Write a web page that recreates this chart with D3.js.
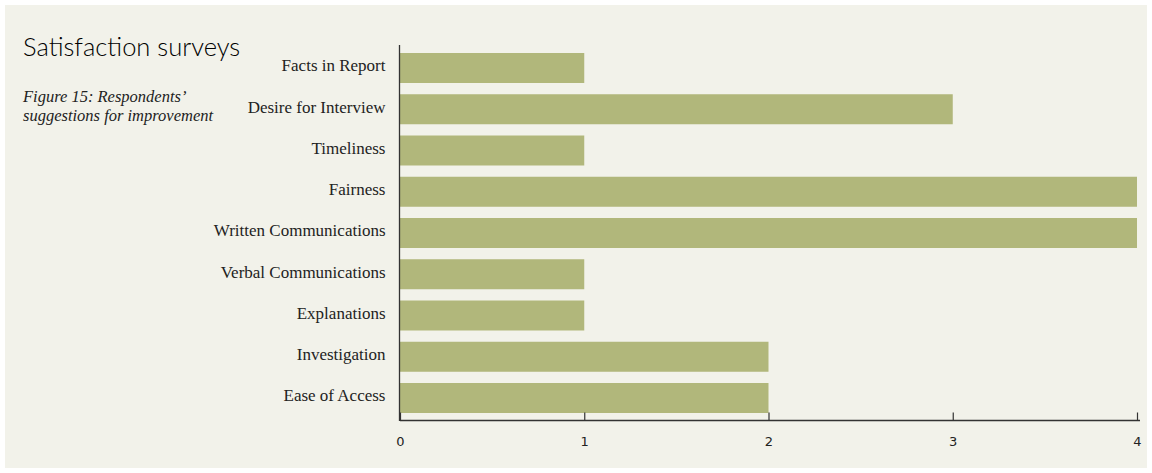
<!DOCTYPE html>
<html>
<head>
<meta charset="utf-8">
<script src="https://cdn.jsdelivr.net/npm/d3@7"></script>
<style>
  html, body { margin: 0; padding: 0; background: #ffffff; }
  svg { display: block; }
</style>
</head>
<body>
<svg id="chart" width="1152" height="473"></svg>
<script>
// Survey responses: suggestions for improvement
const categories = [
  "Facts in Report",
  "Desire for Interview",
  "Timeliness",
  "Fairness",
  "Written Communications",
  "Verbal Communications",
  "Explanations",
  "Investigation",
  "Ease of Access"
];
const counts = [1, 3, 1, 4, 4, 1, 1, 2, 2];
const tickValues = [0, 1, 2, 3, 4];

const svg = d3.select("#chart");

// panel background
svg.append("rect")
  .attr("x", 5).attr("y", 5)
  .attr("width", 1142).attr("height", 463)
  .attr("fill", "#f2f2ea");

const x = d3.scaleLinear().domain([0, 4]).range([400, 1137]);
const y = d3.scaleBand().domain(categories)
  .range([44.75, 421.25]).paddingInner(0.2727).paddingOuter(0.2);

// bars
svg.append("g").selectAll("rect")
  .data(categories)
  .join("rect")
  .attr("x", x(0))
  .attr("y", d => y(d))
  .attr("width", (d, i) => x(counts[i]) - x(0))
  .attr("height", y.bandwidth())
  .attr("fill", "#b1b77b");

// value axis
const xAxis = d3.axisBottom(x).tickValues(tickValues).tickFormat(d3.format("d")).tickSize(0).tickPadding(16);
const gx = svg.append("g").attr("transform", "translate(0,420.5)").call(xAxis);
gx.select(".domain").attr("d", "M400,0H1140").attr("stroke", "#333").attr("stroke-width", 1.3);
gx.selectAll(".tick line").attr("y1", 0).attr("y2", -8).attr("stroke", "#333").attr("stroke-width", 1.2);
gx.selectAll(".tick text")
  .attr("font-family", "'DejaVu Sans', sans-serif")
  .attr("font-size", 13)
  .attr("fill", "#222");

// category axis
const yAxis = d3.axisLeft(y).tickSize(0).tickPadding(14);
const gy = svg.append("g").attr("transform", "translate(399.5,0)").call(yAxis);
gy.select(".domain").attr("d", "M0,45V421").attr("stroke", "#333").attr("stroke-width", 1.3);
gy.selectAll(".tick text")
  .attr("font-family", "'Liberation Serif', serif")
  .attr("font-size", 17)
  .attr("dy", "0.2em")
  .attr("fill", "#222");

// headings
svg.append("text")
  .attr("x", 23).attr("y", 56)
  .attr("font-family", "Lato, 'Noto Sans', sans-serif")
  .attr("font-weight", 300)
  .attr("font-size", 25.5)
  .attr("fill", "#000")
  .text("Satisfaction surveys");

const sub = svg.append("text")
  .attr("font-family", "'Liberation Serif', serif")
  .attr("font-style", "italic")
  .attr("font-size", 16.5)
  .attr("fill", "#222");
sub.append("tspan").attr("x", 23).attr("y", 102).text("Figure 15: Respondents’");
sub.append("tspan").attr("x", 23).attr("y", 121).text("suggestions for improvement");
</script>
</body>
</html>
